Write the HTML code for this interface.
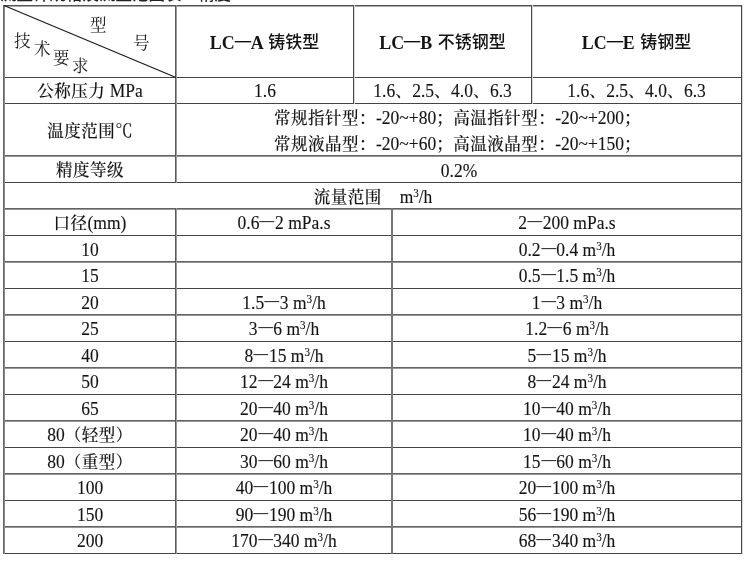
<!DOCTYPE html>
<html><head><meta charset="utf-8"><title>流量范围</title>
<style>
html,body{margin:0;padding:0;background:#fff;}
body{width:750px;height:561px;position:relative;overflow:hidden;color:#141414;
 font-family:"Liberation Serif","Noto Serif CJK SC",serif;font-size:17.5px;}
.h1{position:absolute;height:1px;background:#454545;}
.h2{position:absolute;height:2px;background:linear-gradient(#646464 50%,#959595 50%);}
.v1{position:absolute;width:1px;background:#4a4a4a;box-shadow:1px 0 0 #d8d8d8;}
.v2{position:absolute;width:2px;background:#777;}
.t{position:absolute;text-align:center;white-space:nowrap;line-height:20px;-webkit-text-stroke:0.12px #141414;transform:translateY(1px) scaleY(1.05);transform-origin:50% 11px;}
.t .z,.t .hei{display:inline-block;transform:scaleY(0.952);}
.t .d{-webkit-text-stroke:0;}
.t span,.t sup{line-height:0;}
.tl{text-align:left;}
.z{font-family:"Noto Serif CJK SC",serif;font-size:16.5px;font-weight:500;letter-spacing:0.5px;position:relative;top:0px;}
.b{font-weight:bold;font-size:17.9px;transform:none;-webkit-text-stroke:0;}
.b .hei{transform:none;}
.hei{font-family:"Noto Sans CJK SC",sans-serif;font-weight:500;font-size:17px;margin-left:1px;position:relative;top:-1px;}
.b .d{font-weight:500;color:#111;transform:scaleX(1.15);top:-2.5px;}
.d{font-family:"Noto Sans CJK SC",sans-serif;font-weight:400;position:relative;top:-2px;color:#3a3a3a;display:inline-block;transform:scaleX(1.06);}
sup{font-size:11px;line-height:0;vertical-align:0;position:relative;top:-6px;}
.c{position:absolute;font-family:"Noto Serif CJK SC",serif;font-weight:400;font-size:16.5px;line-height:18px;}
.top{position:absolute;left:0;top:-16px;width:240px;font-family:"Noto Sans CJK SC",sans-serif;font-weight:500;font-size:16.5px;line-height:18px;white-space:nowrap;color:#222}
</style></head><body>
<div class="top">流量计规格及流量范围表一精度</div>
<div class="h1" style="left:3px;top:5px;width:739px;box-shadow:0 1px 0 #aaa;background:#555;"></div>
<div class="h1" style="left:3px;top:77px;width:739px;"></div>
<div class="h1" style="left:3px;top:103px;width:739px;"></div>
<div class="h2" style="left:3px;top:155px;width:739px"></div>
<div class="h1" style="left:3px;top:182px;width:739px;"></div>
<div class="h2" style="left:3px;top:208px;width:739px"></div>
<div class="h1" style="left:3px;top:235px;width:739px;"></div>
<div class="h2" style="left:3px;top:261px;width:739px"></div>
<div class="h1" style="left:3px;top:288px;width:739px;"></div>
<div class="h2" style="left:3px;top:314px;width:739px"></div>
<div class="h1" style="left:3px;top:341px;width:739px;"></div>
<div class="h2" style="left:3px;top:367px;width:739px"></div>
<div class="h1" style="left:3px;top:394px;width:739px;"></div>
<div class="h2" style="left:3px;top:420px;width:739px"></div>
<div class="h1" style="left:3px;top:447px;width:739px;"></div>
<div class="h2" style="left:3px;top:473px;width:739px"></div>
<div class="h1" style="left:3px;top:500px;width:739px;"></div>
<div class="h2" style="left:3px;top:526px;width:739px"></div>
<div class="h1" style="left:3px;top:553px;width:739px;"></div>
<div class="v2" style="left:3px;top:5px;height:548.5px;background:linear-gradient(to right,#666 50%,#8a8a8a 50%);"></div>
<div class="v1" style="left:741px;top:5px;height:548.5px"></div>
<div class="v2" style="left:175px;top:5px;height:177.5px;background:linear-gradient(to right,#5a5a5a 50%,#9a9a9a 50%);"></div>
<div class="v2" style="left:175px;top:208px;height:345.5px;background:linear-gradient(to right,#5a5a5a 50%,#9a9a9a 50%);"></div>
<div class="v1" style="left:353px;top:5px;height:98.5px"></div>
<div class="v1" style="left:531px;top:5px;height:98.5px"></div>
<div class="v2" style="left:391px;top:208px;height:345.5px;"></div>
<svg style="position:absolute;left:0;top:0" width="200" height="90">
<line x1="4" y1="5.5" x2="176" y2="77.5" stroke="#1a1a1a" stroke-width="1.2"/>
</svg>
<div class="c" style="left:90px;top:15px">型</div>
<div class="c" style="left:133px;top:32.5px">号</div>
<div class="c" style="left:14px;top:31px">技</div>
<div class="c" style="left:34px;top:39px">术</div>
<div class="c" style="left:53px;top:48px">要</div>
<div class="c" style="left:72px;top:56px">求</div>
<div class="t b" style="left:176px;width:177px;top:33px;">LC<span class="d">—</span>A <span class="hei">铸铁型</span></div>
<div class="t b" style="left:354px;width:177px;top:33px;">LC<span class="d">—</span>B <span class="hei">不锈钢型</span></div>
<div class="t b" style="left:532px;width:209px;top:33px;">LC<span class="d">—</span>E <span class="hei">铸钢型</span></div>
<div class="t " style="left:5px;width:170px;top:80px;"><span class="z">公称压力</span> MPa</div>
<div class="t " style="left:177px;width:176px;top:80px;">1.6</div>
<div class="t " style="left:354px;width:177px;top:80px;">1.6<span class="z">、</span>2.5<span class="z">、</span>4.0<span class="z">、</span>6.3</div>
<div class="t " style="left:532px;width:209px;top:80px;">1.6<span class="z">、</span>2.5<span class="z">、</span>4.0<span class="z">、</span>6.3</div>
<div class="t " style="left:5px;width:170px;top:120px;"><span class="z">温度范围</span>℃</div>
<div class="t tl" style="left:274px;width:466px;top:107px;"><span class="z">常规指针型：</span>-20~+80<span class="z">；高温指针型：</span>-20~+200<span class="z">；</span></div>
<div class="t tl" style="left:274px;width:466px;top:133px;"><span class="z">常规液晶型：</span>-20~+60<span class="z">；高温液晶型：</span>-20~+150<span class="z">；</span></div>
<div class="t " style="left:5px;width:170px;top:159px;"><span class="z">精度等级</span></div>
<div class="t " style="left:177px;width:564px;top:160px;">0.2%</div>
<div class="t " style="left:5px;width:736px;top:186px;"><span class="z">流量范围</span><span style="display:inline-block;width:18px"></span>m<sup>3</sup>/h</div>
<div class="t " style="left:5px;width:170px;top:212.4px;"><span class="z">口径</span>(mm)</div>
<div class="t " style="left:177px;width:214px;top:212.4px;">0.6<span class="d">—</span>2 mPa.s</div>
<div class="t " style="left:393px;width:348px;top:212.4px;">2<span class="d">—</span>200 mPa.s</div>
<div class="t " style="left:5px;width:170px;top:238.9px;">10</div>
<div class="t " style="left:393px;width:348px;top:238.9px;">0.2<span class="d">—</span>0.4 m<sup>3</sup>/h</div>
<div class="t " style="left:5px;width:170px;top:265.4px;">15</div>
<div class="t " style="left:393px;width:348px;top:265.4px;">0.5<span class="d">—</span>1.5 m<sup>3</sup>/h</div>
<div class="t " style="left:5px;width:170px;top:291.9px;">20</div>
<div class="t " style="left:177px;width:214px;top:291.9px;">1.5<span class="d">—</span>3 m<sup>3</sup>/h</div>
<div class="t " style="left:393px;width:348px;top:291.9px;">1<span class="d">—</span>3 m<sup>3</sup>/h</div>
<div class="t " style="left:5px;width:170px;top:318.4px;">25</div>
<div class="t " style="left:177px;width:214px;top:318.4px;">3<span class="d">—</span>6 m<sup>3</sup>/h</div>
<div class="t " style="left:393px;width:348px;top:318.4px;">1.2<span class="d">—</span>6 m<sup>3</sup>/h</div>
<div class="t " style="left:5px;width:170px;top:344.9px;">40</div>
<div class="t " style="left:177px;width:214px;top:344.9px;">8<span class="d">—</span>15 m<sup>3</sup>/h</div>
<div class="t " style="left:393px;width:348px;top:344.9px;">5<span class="d">—</span>15 m<sup>3</sup>/h</div>
<div class="t " style="left:5px;width:170px;top:371.4px;">50</div>
<div class="t " style="left:177px;width:214px;top:371.4px;">12<span class="d">—</span>24 m<sup>3</sup>/h</div>
<div class="t " style="left:393px;width:348px;top:371.4px;">8<span class="d">—</span>24 m<sup>3</sup>/h</div>
<div class="t " style="left:5px;width:170px;top:397.9px;">65</div>
<div class="t " style="left:177px;width:214px;top:397.9px;">20<span class="d">—</span>40 m<sup>3</sup>/h</div>
<div class="t " style="left:393px;width:348px;top:397.9px;">10<span class="d">—</span>40 m<sup>3</sup>/h</div>
<div class="t " style="left:5px;width:170px;top:424.4px;">80<span class="z">（轻型）</span></div>
<div class="t " style="left:177px;width:214px;top:424.4px;">20<span class="d">—</span>40 m<sup>3</sup>/h</div>
<div class="t " style="left:393px;width:348px;top:424.4px;">10<span class="d">—</span>40 m<sup>3</sup>/h</div>
<div class="t " style="left:5px;width:170px;top:450.9px;">80<span class="z">（重型）</span></div>
<div class="t " style="left:177px;width:214px;top:450.9px;">30<span class="d">—</span>60 m<sup>3</sup>/h</div>
<div class="t " style="left:393px;width:348px;top:450.9px;">15<span class="d">—</span>60 m<sup>3</sup>/h</div>
<div class="t " style="left:5px;width:170px;top:477.4px;">100</div>
<div class="t " style="left:177px;width:214px;top:477.4px;">40<span class="d">—</span>100 m<sup>3</sup>/h</div>
<div class="t " style="left:393px;width:348px;top:477.4px;">20<span class="d">—</span>100 m<sup>3</sup>/h</div>
<div class="t " style="left:5px;width:170px;top:503.9px;">150</div>
<div class="t " style="left:177px;width:214px;top:503.9px;">90<span class="d">—</span>190 m<sup>3</sup>/h</div>
<div class="t " style="left:393px;width:348px;top:503.9px;">56<span class="d">—</span>190 m<sup>3</sup>/h</div>
<div class="t " style="left:5px;width:170px;top:530.4px;">200</div>
<div class="t " style="left:177px;width:214px;top:530.4px;">170<span class="d">—</span>340 m<sup>3</sup>/h</div>
<div class="t " style="left:393px;width:348px;top:530.4px;">68<span class="d">—</span>340 m<sup>3</sup>/h</div>
</body></html>
